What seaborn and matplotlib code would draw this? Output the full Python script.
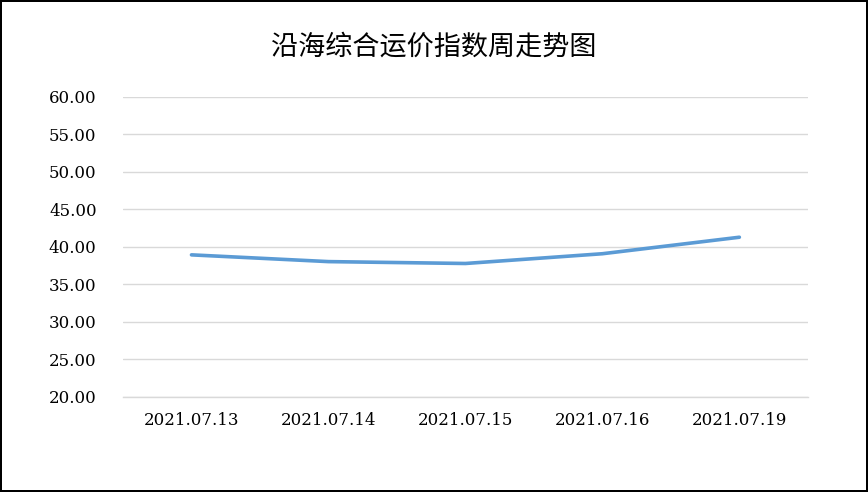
import seaborn as sns
import pandas as pd
import matplotlib.pyplot as plt

dates = ["2021.07.13", "2021.07.14", "2021.07.15", "2021.07.16", "2021.07.19"]
index_values = [38.95, 38.05, 37.80, 39.10, 41.30]
y_ticks = [20, 25, 30, 35, 40, 45, 50, 55, 60]

df = pd.DataFrame({"date": dates, "value": index_values})

sns.set_style("white")
plt.rcParams['font.family'] = ['DejaVu Serif', 'Noto Sans CJK SC', 'DejaVu Sans']

fig = plt.figure(figsize=(8.68, 4.92), dpi=100)
fig.patch.set_edgecolor("black")
fig.patch.set_linewidth(1.5)
ax = fig.add_axes([0.1417, 0.1931, 0.789, 0.6098])

sns.lineplot(data=df, x="date", y="value", color="#5B9BD5", linewidth=2.6,
             sort=False, ax=ax)

ax.set_xlim(-0.5, len(dates) - 0.5)
ax.set_ylim(20, 60)
ax.set_yticks(y_ticks)
ax.set_yticklabels([f"{v:.2f}" for v in y_ticks], fontsize=12, color="black")
ax.tick_params(axis="x", labelsize=12, labelcolor="black", length=0, pad=11)
ax.tick_params(axis="y", length=0, pad=19)
ax.yaxis.grid(True, color="#D9D9D9", linewidth=1)
ax.set_axisbelow(True)
for s in ax.spines.values():
    s.set_visible(False)
ax.spines["bottom"].set_visible(True)
ax.spines["bottom"].set_color("#D9D9D9")
ax.spines["bottom"].set_linewidth(1)
ax.set_xlabel("")
ax.set_ylabel("")

fig.text(0.5, 0.904, "沿海综合运价指数周走势图", ha="center", va="center",
         fontsize=19.5, color="black", family=["Noto Sans CJK SC", "DejaVu Sans"])

fig.savefig("out.png", dpi=100, edgecolor=fig.get_edgecolor())
